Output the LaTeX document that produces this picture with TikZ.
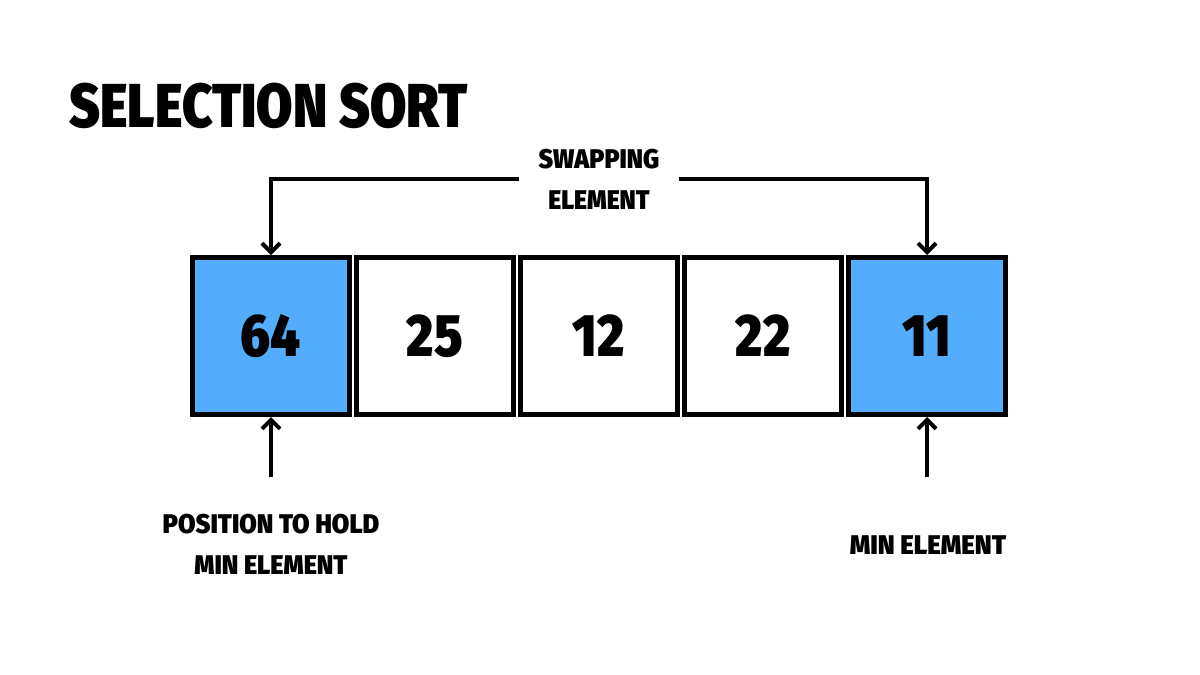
\documentclass[tikz,border=0pt]{standalone}
\usepackage{fontspec}
\setmainfont{Fira Sans}[BoldFont={Fira Sans Black}]
\usetikzlibrary{positioning,arrows.meta}
\definecolor{cellblue}{RGB}{84,172,255}
\newcommand{\narrow}[2][0.82]{\scalebox{#1}[1]{#2}}

\begin{document}
\begin{tikzpicture}[x=1pt,y=1pt,node distance=164pt,on grid,
  >={Straight Barb[length=9pt,width=18pt,line width=4pt]},
  cell/.style={draw,line width=5pt,minimum size=157pt,inner sep=0pt,font=\bfseries\fontsize{60}{60}\selectfont},
  picked/.style={cell,fill=cellblue},
  lbl/.style={font=\bfseries\fontsize{27}{41}\selectfont,align=center},
  arr/.style={->,line width=4pt}]
\useasboundingbox (0,0) rectangle (1200,-675);

\node[anchor=base west,font=\bfseries\fontsize{62}{62}\selectfont] (title) at (66,-127) {\narrow[0.85]{SELECTION SORT}};

% the array
\node[picked] (c1) at (271,-336) {\narrow[0.86]{64}};
\node[cell] (c2) [right=of c1] {\narrow[0.86]{25}};
\node[cell] (c3) [right=of c2] {\narrow[0.86]{12}};
\node[cell] (c4) [right=of c3] {\narrow[0.86]{22}};
\node[picked] (c5) [right=of c4] {\narrow[0.86]{11}};

% swap
\node[lbl,minimum width=160pt] (swap) at (599,-179) {\narrow[0.92]{SWAPPING}\\\narrow[0.92]{ELEMENT}};
\draw[arr] (swap.west) -| (c1.north);
\draw[arr] (swap.east) -| (c5.north);

% pointers from below
\coordinate[below=60pt of c1.south] (p1);
\coordinate[below=60pt of c5.south] (p5);
\draw[arr] (p1) -- (c1.south);
\draw[arr] (p5) -- (c5.south);
\node[lbl] (hold) at (271,-544) {\narrow[0.94]{POSITION TO HOLD}\\\narrow[0.94]{MIN ELEMENT}};
\node[lbl] (minel) at (928,-545) {\narrow[0.96]{MIN ELEMENT}};
\end{tikzpicture}
\end{document}
